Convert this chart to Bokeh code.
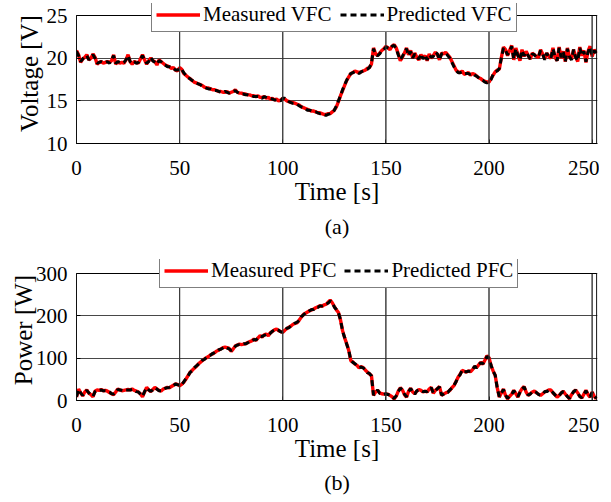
from bokeh.plotting import figure
from bokeh.layouts import column
from bokeh.models import Legend, LegendItem, Title, FixedTicker, BoxAnnotation
from bokeh.embed import file_html
from bokeh.resources import INLINE

# ---------------- data ----------------
time_s = list(range(0, 253))

v_measured = [
    20.9, 20.4, 19.5, 19.9, 20.1, 20.4, 19.8, 20.0, 20.5, 20.1,
    19.3, 19.5, 19.6, 19.4, 19.5, 19.6, 19.5, 19.7, 20.4, 19.3,
    19.6, 19.4, 19.5, 19.4, 19.8, 20.4, 19.6, 19.3, 19.6, 19.5,
    19.4, 19.9, 20.4, 19.8, 19.3, 19.7, 20.0, 19.7, 19.6, 19.2,
    19.8, 19.6, 19.4, 19.2, 19.1, 19.0, 18.8, 18.9, 18.6, 18.5,
    18.9, 18.7, 18.2, 18.0, 17.8, 17.6, 17.4, 17.2, 17.1, 17.0,
    16.9, 16.8, 16.6, 16.5, 16.5, 16.4, 16.3, 16.3, 16.2, 16.1,
    16.1, 16.0, 16.0, 16.1, 15.9, 16.0, 16.1, 16.3, 16.0, 15.9,
    15.9, 15.8, 15.8, 15.7, 15.7, 15.6, 15.6, 15.5, 15.6, 15.4,
    15.4, 15.5, 15.3, 15.4, 15.2, 15.3, 15.1, 15.2, 15.0, 15.1,
    15.3, 15.2, 15.0, 14.9, 14.8, 14.8, 14.7, 14.6, 14.5, 14.3,
    14.2, 14.1, 14.0, 13.9, 13.8, 13.8, 13.7, 13.6, 13.6, 13.5,
    13.4, 13.4, 13.5, 13.5, 13.7, 13.9, 14.3, 14.9, 15.6, 16.2,
    16.8, 17.4, 17.8, 18.2, 18.3, 18.5, 18.4, 18.3, 18.4, 18.5,
    18.6, 18.8, 18.9, 19.3, 21.2, 20.5, 20.3, 20.6, 20.9, 21.1,
    21.4, 21.2, 21.0, 21.4, 21.6, 21.2, 20.5, 19.7, 20.1, 20.6,
    21.2, 20.4, 20.9, 20.0, 20.6, 20.1, 19.8, 20.4, 20.0, 20.3,
    19.7, 20.5, 20.0, 20.3, 20.7, 20.4, 19.8, 20.6, 20.5, 20.7,
    20.4, 20.1, 19.6, 19.1, 18.6, 18.4, 18.3, 18.5, 18.1, 18.2,
    18.3, 18.0, 18.2, 18.1, 17.9, 17.7, 17.6, 17.4, 17.3, 17.2,
    17.2, 17.6, 18.0, 18.4, 18.6, 18.7, 20.1, 21.3, 21.0, 20.3,
    20.9, 21.5, 19.8, 21.2, 20.4, 19.7, 21.0, 20.2, 20.8, 20.3,
    19.9, 20.6, 20.4, 20.2, 20.1, 21.0, 20.5, 19.9, 20.6, 20.2,
    20.0, 21.2, 20.1, 19.7, 21.3, 20.0, 20.8, 19.6, 21.2, 20.1,
    19.9, 21.0, 20.2, 19.6, 21.3, 20.3, 20.9, 19.5, 20.8, 21.4,
    20.2, 21.0, 20.6,
]

v_predicted = [
    20.8, 20.3, 19.6, 19.9, 20.2, 20.3, 19.8, 20.1, 20.4, 20.0,
    19.4, 19.5, 19.6, 19.5, 19.5, 19.6, 19.4, 19.8, 20.3, 19.4,
    19.6, 19.5, 19.4, 19.5, 19.8, 20.3, 19.6, 19.4, 19.6, 19.4,
    19.5, 19.9, 20.3, 19.8, 19.4, 19.6, 20.1, 19.7, 19.5, 19.3,
    19.7, 19.6, 19.3, 19.2, 19.0, 19.0, 18.9, 18.8, 18.6, 18.6,
    18.8, 18.7, 18.3, 18.0, 17.7, 17.6, 17.4, 17.3, 17.1, 17.0,
    16.9, 16.7, 16.6, 16.5, 16.4, 16.4, 16.3, 16.2, 16.2, 16.1,
    16.0, 16.0, 16.1, 16.0, 15.9, 16.0, 16.1, 16.2, 16.0, 15.9,
    15.8, 15.8, 15.7, 15.7, 15.6, 15.6, 15.5, 15.5, 15.5, 15.4,
    15.3, 15.5, 15.4, 15.3, 15.3, 15.2, 15.1, 15.1, 15.1, 15.0,
    15.3, 15.3, 15.1, 14.9, 14.8, 14.7, 14.7, 14.6, 14.4, 14.3,
    14.2, 14.1, 13.9, 13.9, 13.8, 13.7, 13.7, 13.6, 13.5, 13.5,
    13.4, 13.3, 13.4, 13.5, 13.6, 13.9, 14.4, 15.0, 15.6, 16.3,
    16.9, 17.4, 17.9, 18.2, 18.3, 18.4, 18.4, 18.2, 18.4, 18.5,
    18.6, 18.7, 18.9, 19.4, 21.1, 20.4, 20.3, 20.5, 20.9, 21.0,
    21.3, 21.2, 21.1, 21.4, 21.5, 21.1, 20.4, 19.8, 20.2, 20.7,
    21.1, 20.3, 20.8, 20.0, 20.5, 20.1, 19.9, 20.5, 19.9, 20.4,
    19.8, 20.4, 20.1, 20.2, 20.7, 20.5, 19.8, 20.5, 20.6, 20.6,
    20.3, 20.0, 19.5, 19.0, 18.6, 18.3, 18.3, 18.4, 18.2, 18.2,
    18.2, 18.1, 18.2, 18.0, 17.9, 17.7, 17.5, 17.4, 17.2, 17.1,
    17.2, 17.5, 18.1, 18.4, 18.5, 18.8, 20.0, 21.2, 20.9, 20.4,
    20.8, 21.4, 19.9, 21.1, 20.3, 19.8, 20.9, 20.3, 20.7, 20.3,
    19.9, 20.5, 20.4, 20.1, 20.2, 20.9, 20.5, 19.8, 20.6, 20.1,
    20.0, 21.1, 20.2, 19.7, 21.2, 20.1, 20.7, 19.6, 21.1, 20.2,
    19.8, 21.0, 20.1, 19.7, 21.2, 20.3, 20.8, 19.6, 20.7, 21.3,
    20.3, 20.9, 20.5,
]

p_measured = [
    8, 27, 18, 11, 20, 25, 17, 14, 9, 22,
    25, 24, 26, 23, 24, 22, 19, 16, 14, 20,
    27, 25, 23, 24, 25, 26, 25, 27, 24, 22,
    20, 16, 9, 20, 31, 25, 21, 26, 31, 27,
    24, 22, 27, 29, 31, 30, 33, 36, 39, 38,
    35, 38, 43, 50, 58, 66, 71, 76, 80, 86,
    90, 94, 98, 101, 104, 108, 110, 113, 117, 119,
    122, 125, 126, 125, 123, 116, 122, 129, 131, 133,
    132, 133, 134, 137, 139, 141, 145, 142, 148, 153,
    150, 155, 157, 153, 160, 163, 167, 169, 165, 163,
    161, 166, 170, 173, 176, 180, 182, 184, 190, 197,
    203, 206, 209, 212, 214, 216, 219, 221, 224, 222,
    226, 227, 232, 237, 231, 222, 214, 208, 190, 165,
    148, 134, 118, 94, 91, 86, 83, 77, 80, 78,
    72, 67, 63, 59, 12, 20, 24, 18, 16, 15,
    15, 15, 12, 9, 4, 10, 22, 30, 25, 14,
    8, 22, 29, 20, 16, 22, 26, 24, 20, 22,
    20, 27, 31, 17, 24, 28, 33, 12, 15, 18,
    20, 24, 30, 35, 45, 55, 62, 71, 69, 67,
    70, 68, 73, 80, 78, 84, 90, 86, 95, 106,
    101, 82, 70, 59, 30, 8, 18, 27, 12, 4,
    10, 15, 24, 16, 8, 20, 28, 33, 20, 12,
    16, 20, 22, 18, 15, 12, 16, 20, 22, 25,
    25, 18, 14, 8, 12, 17, 22, 15, 10, 4,
    14, 20, 25, 18, 10, 6, 15, 24, 14, 8,
    20, 10, 4,
]

p_predicted = [
    9, 26, 18, 12, 19, 24, 18, 13, 10, 21,
    24, 24, 25, 23, 23, 22, 20, 16, 15, 19,
    26, 25, 24, 23, 25, 25, 25, 26, 24, 21,
    20, 15, 10, 21, 30, 25, 22, 25, 30, 27,
    23, 23, 26, 29, 30, 31, 33, 35, 39, 37,
    36, 37, 44, 51, 57, 66, 70, 77, 81, 85,
    90, 95, 97, 102, 104, 107, 111, 113, 116, 120,
    121, 124, 127, 124, 122, 118, 121, 128, 131, 132,
    132, 134, 134, 136, 140, 140, 144, 143, 147, 152,
    151, 154, 156, 154, 159, 164, 166, 168, 166, 162,
    162, 165, 171, 172, 177, 179, 183, 185, 189, 198,
    202, 207, 208, 212, 215, 215, 220, 220, 223, 223,
    225, 228, 230, 235, 232, 221, 215, 207, 191, 164,
    149, 133, 119, 95, 90, 87, 82, 78, 79, 77,
    73, 66, 64, 58, 13, 19, 25, 17, 16, 14,
    16, 14, 13, 8, 5, 11, 21, 29, 25, 15,
    9, 21, 28, 21, 15, 23, 25, 24, 21, 21,
    21, 26, 30, 18, 23, 28, 32, 13, 15, 19,
    19, 25, 29, 36, 44, 56, 61, 72, 68, 68,
    69, 69, 72, 81, 77, 85, 89, 87, 94, 104,
    100, 83, 69, 60, 29, 9, 17, 26, 13, 5,
    11, 14, 23, 17, 9, 19, 27, 32, 21, 13,
    15, 21, 21, 19, 14, 13, 15, 21, 21, 24,
    24, 19, 13, 9, 11, 18, 21, 16, 9, 5,
    13, 21, 24, 19, 9, 7, 14, 23, 15, 9,
    19, 11, 5,
]

x_ticks = [0, 50, 100, 150, 200, 250]
v_ticks = [10, 15, 20, 25]
p_ticks = [0, 100, 200, 300]

FONT = "Liberation Serif"
X_BOX = 252.2     # right edge of the axes box (seconds)
X_END = 252.6     # visible range end, a hair beyond the box edge
GRID = "#333333"
FRAME_W = 521


def make_panel(y, y_pred, y_ticks, y_label, names, tag,
               top, box_h, ext, bottom, leg_x, ylab_standoff, tag_standoff):
    lo, hi = y_ticks[0], y_ticks[-1]
    y_end = hi + ext * (hi - lo) / box_h
    p = figure(frame_width=FRAME_W, frame_height=box_h + ext,
               x_range=(0, X_END), y_range=(lo, y_end),
               output_backend="svg", toolbar_location=None,
               min_border_left=76, min_border_right=2,
               min_border_top=top, min_border_bottom=bottom)
    p.outline_line_color = None
    p.background_fill_color = "white"
    p.border_fill_color = "white"

    # grid
    p.xgrid.visible = False
    p.ygrid.ticker = FixedTicker(ticks=y_ticks)
    p.ygrid.grid_line_color = GRID
    p.ygrid.grid_line_alpha = 0.9
    for xt in x_ticks:
        p.add_layout(BoxAnnotation(left=xt, right=xt, bottom=lo, top=hi,
                                   fill_alpha=0, line_color=GRID,
                                   line_alpha=0.9, line_width=1))
    # axes box
    p.add_layout(BoxAnnotation(left=0, right=X_BOX, bottom=lo, top=hi,
                               fill_alpha=0, line_color="black",
                               line_alpha=1, line_width=1))

    r1 = p.line(time_s, y, line_color="#ff0000", line_width=3.4)
    r2 = p.line(time_s, y_pred, line_color="black", line_width=3,
                line_dash="6 4")

    for ax in (p.xaxis[0], p.yaxis[0]):
        ax.axis_line_color = "black"
        ax.major_tick_in = 4
        ax.major_tick_out = 0
        ax.minor_tick_in = 0
        ax.minor_tick_out = 0
        ax.major_label_text_font = FONT
        ax.major_label_text_font_size = "21px"
        ax.major_label_text_color = "black"
        ax.axis_label_text_font = FONT
        ax.axis_label_text_font_size = "25px"
        ax.axis_label_text_font_style = "normal"
        ax.axis_label_text_color = "black"
    p.xaxis.ticker = FixedTicker(ticks=x_ticks)
    p.yaxis.ticker = FixedTicker(ticks=y_ticks)
    p.yaxis.bounds = (lo, hi)
    p.xaxis.axis_label = "Time [s]"
    p.yaxis.axis_label = y_label
    p.xaxis.major_label_standoff = 17
    p.xaxis.axis_label_standoff = 0
    p.yaxis.major_label_standoff = 9
    p.yaxis.axis_label_standoff = ylab_standoff

    legend = Legend(items=[LegendItem(label=names[0], renderers=[r1]),
                           LegendItem(label=names[1], renderers=[r2])],
                    orientation="horizontal",
                    location=(leg_x, box_h + ext - 29))
    legend.margin = 0
    legend.padding = 4
    legend.spacing = 8
    legend.glyph_width = 44
    legend.glyph_height = 21
    legend.label_standoff = 3
    legend.label_text_font = FONT
    legend.label_text_font_size = "21px"
    legend.label_text_color = "black"
    legend.border_line_color = "black"
    legend.border_line_width = 1
    legend.background_fill_color = "white"
    legend.background_fill_alpha = 1
    p.add_layout(legend, "center")

    t = Title(text=tag, align="center", text_font=FONT,
              text_font_size="22px", text_font_style="normal",
              text_color="black", standoff=tag_standoff)
    p.add_layout(t, "below")
    return p


pa = make_panel(v_measured, v_predicted, v_ticks, "Voltage [V]",
                ["Measured VFC", "Predicted VFC"], "(a)",
                top=3, box_h=128, ext=12, bottom=100, leg_x=75,
                ylab_standoff=1, tag_standoff=8)
pb = make_panel(p_measured, p_predicted, p_ticks, "Power [W]",
                ["Measured PFC", "Predicted PFC"], "(b)",
                top=16, box_h=127, ext=14, bottom=94, leg_x=83,
                ylab_standoff=-4, tag_standoff=6)

layout = column(pa, pb, spacing=0)
open("out.html", "w").write(file_html(layout, INLINE))
